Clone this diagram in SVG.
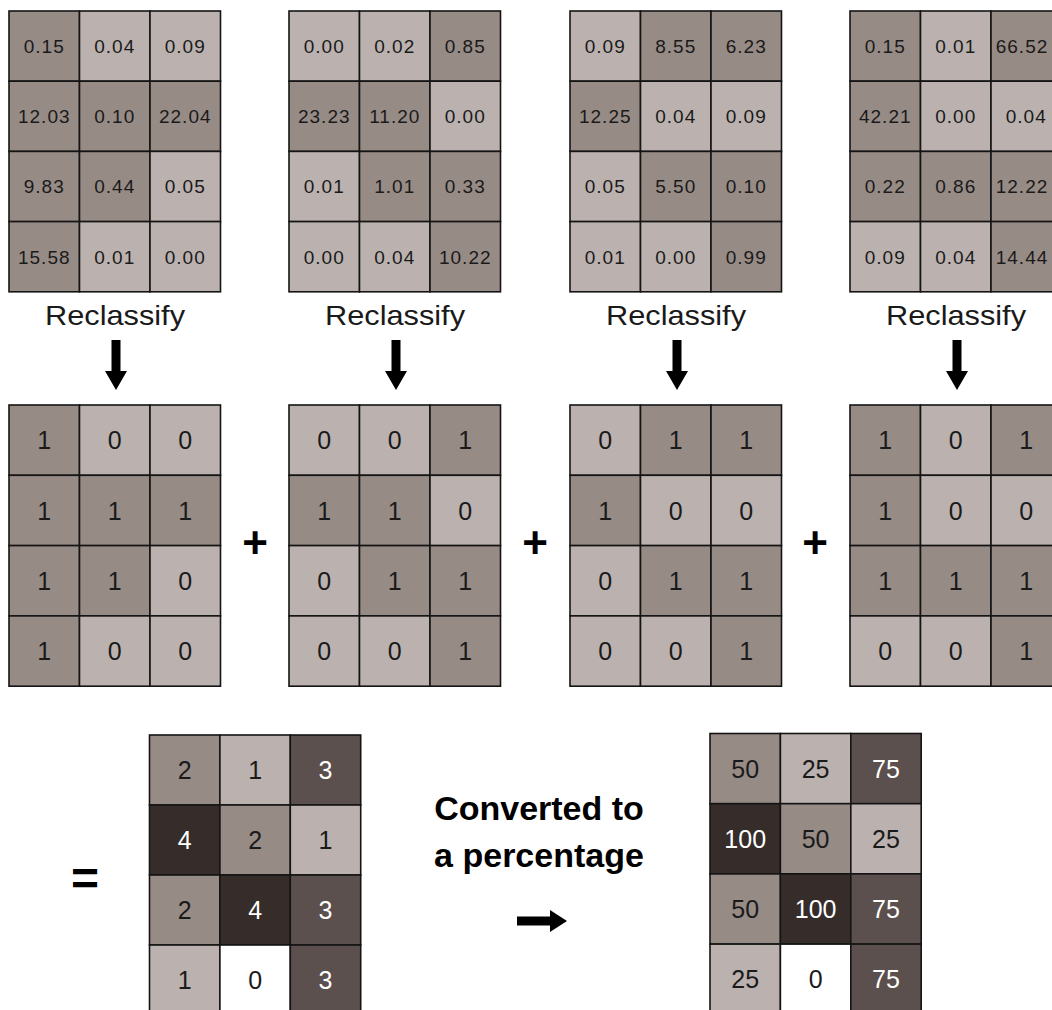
<svg xmlns="http://www.w3.org/2000/svg" width="1052" height="1010" viewBox="0 0 1052 1010">
<style>
.L{fill:#bbb2af}.M{fill:#978b86}.D{fill:#5b504d}.X{fill:#362d2b}.W{fill:#ffffff}
.grid rect{stroke:#141414;stroke-width:1.6}
.t1{font-family:"Liberation Sans",Arial,sans-serif;font-size:19px;letter-spacing:1px;text-anchor:middle;fill:#1a1a1a}
.t2{font-family:"Liberation Sans",Arial,sans-serif;font-size:25px;text-anchor:middle;fill:#1a1a1a}
.wt{fill:#ffffff}
.lbl{font-family:"Liberation Sans",Arial,sans-serif;font-size:28px;text-anchor:middle;fill:#1a1a1a}
.big{font-family:"Liberation Sans",Arial,sans-serif;font-size:34px;font-weight:bold;text-anchor:middle;fill:#000}
.op{font-family:"Liberation Sans",Arial,sans-serif;font-weight:bold;text-anchor:middle;fill:#000}
.arr{fill:#000}
</style>
<defs>
<polygon id="down" points="-4.5,0 4.5,0 4.5,31 11,31 0,50 -11,31 -4.5,31"/>
</defs>

<!-- Top input grids -->
<g id="input1" class="grid" transform="translate(9,11)">
<rect class="M" x="0" y="0" width="70.5" height="70.2"/><rect class="L" x="70.5" y="0" width="70.5" height="70.2"/><rect class="L" x="141" y="0" width="70.5" height="70.2"/>
<rect class="M" x="0" y="70.2" width="70.5" height="70.2"/><rect class="M" x="70.5" y="70.2" width="70.5" height="70.2"/><rect class="M" x="141" y="70.2" width="70.5" height="70.2"/>
<rect class="M" x="0" y="140.4" width="70.5" height="70.2"/><rect class="M" x="70.5" y="140.4" width="70.5" height="70.2"/><rect class="L" x="141" y="140.4" width="70.5" height="70.2"/>
<rect class="M" x="0" y="210.6" width="70.5" height="70.2"/><rect class="L" x="70.5" y="210.6" width="70.5" height="70.2"/><rect class="L" x="141" y="210.6" width="70.5" height="70.2"/>
<text class="t1" x="35.25" y="41.9">0.15</text><text class="t1" x="105.75" y="41.9">0.04</text><text class="t1" x="176.25" y="41.9">0.09</text>
<text class="t1" x="35.25" y="112.1">12.03</text><text class="t1" x="105.75" y="112.1">0.10</text><text class="t1" x="176.25" y="112.1">22.04</text>
<text class="t1" x="35.25" y="182.3">9.83</text><text class="t1" x="105.75" y="182.3">0.44</text><text class="t1" x="176.25" y="182.3">0.05</text>
<text class="t1" x="35.25" y="252.5">15.58</text><text class="t1" x="105.75" y="252.5">0.01</text><text class="t1" x="176.25" y="252.5">0.00</text>
</g>
<g id="input2" class="grid" transform="translate(289,11)">
<rect class="L" x="0" y="0" width="70.5" height="70.2"/><rect class="L" x="70.5" y="0" width="70.5" height="70.2"/><rect class="M" x="141" y="0" width="70.5" height="70.2"/>
<rect class="M" x="0" y="70.2" width="70.5" height="70.2"/><rect class="M" x="70.5" y="70.2" width="70.5" height="70.2"/><rect class="L" x="141" y="70.2" width="70.5" height="70.2"/>
<rect class="L" x="0" y="140.4" width="70.5" height="70.2"/><rect class="M" x="70.5" y="140.4" width="70.5" height="70.2"/><rect class="M" x="141" y="140.4" width="70.5" height="70.2"/>
<rect class="L" x="0" y="210.6" width="70.5" height="70.2"/><rect class="L" x="70.5" y="210.6" width="70.5" height="70.2"/><rect class="M" x="141" y="210.6" width="70.5" height="70.2"/>
<text class="t1" x="35.25" y="41.9">0.00</text><text class="t1" x="105.75" y="41.9">0.02</text><text class="t1" x="176.25" y="41.9">0.85</text>
<text class="t1" x="35.25" y="112.1">23.23</text><text class="t1" x="105.75" y="112.1">11.20</text><text class="t1" x="176.25" y="112.1">0.00</text>
<text class="t1" x="35.25" y="182.3">0.01</text><text class="t1" x="105.75" y="182.3">1.01</text><text class="t1" x="176.25" y="182.3">0.33</text>
<text class="t1" x="35.25" y="252.5">0.00</text><text class="t1" x="105.75" y="252.5">0.04</text><text class="t1" x="176.25" y="252.5">10.22</text>
</g>
<g id="input3" class="grid" transform="translate(570,11)">
<rect class="L" x="0" y="0" width="70.5" height="70.2"/><rect class="M" x="70.5" y="0" width="70.5" height="70.2"/><rect class="M" x="141" y="0" width="70.5" height="70.2"/>
<rect class="M" x="0" y="70.2" width="70.5" height="70.2"/><rect class="L" x="70.5" y="70.2" width="70.5" height="70.2"/><rect class="L" x="141" y="70.2" width="70.5" height="70.2"/>
<rect class="L" x="0" y="140.4" width="70.5" height="70.2"/><rect class="M" x="70.5" y="140.4" width="70.5" height="70.2"/><rect class="M" x="141" y="140.4" width="70.5" height="70.2"/>
<rect class="L" x="0" y="210.6" width="70.5" height="70.2"/><rect class="L" x="70.5" y="210.6" width="70.5" height="70.2"/><rect class="M" x="141" y="210.6" width="70.5" height="70.2"/>
<text class="t1" x="35.25" y="41.9">0.09</text><text class="t1" x="105.75" y="41.9">8.55</text><text class="t1" x="176.25" y="41.9">6.23</text>
<text class="t1" x="35.25" y="112.1">12.25</text><text class="t1" x="105.75" y="112.1">0.04</text><text class="t1" x="176.25" y="112.1">0.09</text>
<text class="t1" x="35.25" y="182.3">0.05</text><text class="t1" x="105.75" y="182.3">5.50</text><text class="t1" x="176.25" y="182.3">0.10</text>
<text class="t1" x="35.25" y="252.5">0.01</text><text class="t1" x="105.75" y="252.5">0.00</text><text class="t1" x="176.25" y="252.5">0.99</text>
</g>
<g id="input4" class="grid" transform="translate(850,11)">
<rect class="M" x="0" y="0" width="70.5" height="70.2"/><rect class="L" x="70.5" y="0" width="70.5" height="70.2"/><rect class="M" x="141" y="0" width="70.5" height="70.2"/>
<rect class="M" x="0" y="70.2" width="70.5" height="70.2"/><rect class="L" x="70.5" y="70.2" width="70.5" height="70.2"/><rect class="L" x="141" y="70.2" width="70.5" height="70.2"/>
<rect class="M" x="0" y="140.4" width="70.5" height="70.2"/><rect class="M" x="70.5" y="140.4" width="70.5" height="70.2"/><rect class="M" x="141" y="140.4" width="70.5" height="70.2"/>
<rect class="L" x="0" y="210.6" width="70.5" height="70.2"/><rect class="L" x="70.5" y="210.6" width="70.5" height="70.2"/><rect class="M" x="141" y="210.6" width="70.5" height="70.2"/>
<text class="t1" x="35.25" y="41.9">0.15</text><text class="t1" x="105.75" y="41.9">0.01</text><text class="t1" x="172" y="41.9">66.52</text>
<text class="t1" x="35.25" y="112.1">42.21</text><text class="t1" x="105.75" y="112.1">0.00</text><text class="t1" x="176.25" y="112.1">0.04</text>
<text class="t1" x="35.25" y="182.3">0.22</text><text class="t1" x="105.75" y="182.3">0.86</text><text class="t1" x="172" y="182.3">12.22</text>
<text class="t1" x="35.25" y="252.5">0.09</text><text class="t1" x="105.75" y="252.5">0.04</text><text class="t1" x="172" y="252.5">14.44</text>
</g>

<!-- Labels -->
<g id="labels">
<text class="lbl" x="115" y="325" textLength="140" lengthAdjust="spacingAndGlyphs">Reclassify</text>
<text class="lbl" x="395" y="325" textLength="140" lengthAdjust="spacingAndGlyphs">Reclassify</text>
<text class="lbl" x="676" y="325" textLength="140" lengthAdjust="spacingAndGlyphs">Reclassify</text>
<text class="lbl" x="956" y="325" textLength="140" lengthAdjust="spacingAndGlyphs">Reclassify</text>
</g>

<!-- Reclassified grids -->
<g id="reclass1" class="grid" transform="translate(9,405)">
<rect class="M" x="0" y="0" width="70.5" height="70.3"/><rect class="L" x="70.5" y="0" width="70.5" height="70.3"/><rect class="L" x="141" y="0" width="70.5" height="70.3"/>
<rect class="M" x="0" y="70.3" width="70.5" height="70.3"/><rect class="M" x="70.5" y="70.3" width="70.5" height="70.3"/><rect class="M" x="141" y="70.3" width="70.5" height="70.3"/>
<rect class="M" x="0" y="140.6" width="70.5" height="70.3"/><rect class="M" x="70.5" y="140.6" width="70.5" height="70.3"/><rect class="L" x="141" y="140.6" width="70.5" height="70.3"/>
<rect class="M" x="0" y="210.9" width="70.5" height="70.3"/><rect class="L" x="70.5" y="210.9" width="70.5" height="70.3"/><rect class="L" x="141" y="210.9" width="70.5" height="70.3"/>
<text class="t2" x="35.25" y="44.2">1</text><text class="t2" x="105.75" y="44.2">0</text><text class="t2" x="176.25" y="44.2">0</text>
<text class="t2" x="35.25" y="114.5">1</text><text class="t2" x="105.75" y="114.5">1</text><text class="t2" x="176.25" y="114.5">1</text>
<text class="t2" x="35.25" y="184.8">1</text><text class="t2" x="105.75" y="184.8">1</text><text class="t2" x="176.25" y="184.8">0</text>
<text class="t2" x="35.25" y="255.1">1</text><text class="t2" x="105.75" y="255.1">0</text><text class="t2" x="176.25" y="255.1">0</text>
</g>
<g id="reclass2" class="grid" transform="translate(289,405)">
<rect class="L" x="0" y="0" width="70.5" height="70.3"/><rect class="L" x="70.5" y="0" width="70.5" height="70.3"/><rect class="M" x="141" y="0" width="70.5" height="70.3"/>
<rect class="M" x="0" y="70.3" width="70.5" height="70.3"/><rect class="M" x="70.5" y="70.3" width="70.5" height="70.3"/><rect class="L" x="141" y="70.3" width="70.5" height="70.3"/>
<rect class="L" x="0" y="140.6" width="70.5" height="70.3"/><rect class="M" x="70.5" y="140.6" width="70.5" height="70.3"/><rect class="M" x="141" y="140.6" width="70.5" height="70.3"/>
<rect class="L" x="0" y="210.9" width="70.5" height="70.3"/><rect class="L" x="70.5" y="210.9" width="70.5" height="70.3"/><rect class="M" x="141" y="210.9" width="70.5" height="70.3"/>
<text class="t2" x="35.25" y="44.2">0</text><text class="t2" x="105.75" y="44.2">0</text><text class="t2" x="176.25" y="44.2">1</text>
<text class="t2" x="35.25" y="114.5">1</text><text class="t2" x="105.75" y="114.5">1</text><text class="t2" x="176.25" y="114.5">0</text>
<text class="t2" x="35.25" y="184.8">0</text><text class="t2" x="105.75" y="184.8">1</text><text class="t2" x="176.25" y="184.8">1</text>
<text class="t2" x="35.25" y="255.1">0</text><text class="t2" x="105.75" y="255.1">0</text><text class="t2" x="176.25" y="255.1">1</text>
</g>
<g id="reclass3" class="grid" transform="translate(570,405)">
<rect class="L" x="0" y="0" width="70.5" height="70.3"/><rect class="M" x="70.5" y="0" width="70.5" height="70.3"/><rect class="M" x="141" y="0" width="70.5" height="70.3"/>
<rect class="M" x="0" y="70.3" width="70.5" height="70.3"/><rect class="L" x="70.5" y="70.3" width="70.5" height="70.3"/><rect class="L" x="141" y="70.3" width="70.5" height="70.3"/>
<rect class="L" x="0" y="140.6" width="70.5" height="70.3"/><rect class="M" x="70.5" y="140.6" width="70.5" height="70.3"/><rect class="M" x="141" y="140.6" width="70.5" height="70.3"/>
<rect class="L" x="0" y="210.9" width="70.5" height="70.3"/><rect class="L" x="70.5" y="210.9" width="70.5" height="70.3"/><rect class="M" x="141" y="210.9" width="70.5" height="70.3"/>
<text class="t2" x="35.25" y="44.2">0</text><text class="t2" x="105.75" y="44.2">1</text><text class="t2" x="176.25" y="44.2">1</text>
<text class="t2" x="35.25" y="114.5">1</text><text class="t2" x="105.75" y="114.5">0</text><text class="t2" x="176.25" y="114.5">0</text>
<text class="t2" x="35.25" y="184.8">0</text><text class="t2" x="105.75" y="184.8">1</text><text class="t2" x="176.25" y="184.8">1</text>
<text class="t2" x="35.25" y="255.1">0</text><text class="t2" x="105.75" y="255.1">0</text><text class="t2" x="176.25" y="255.1">1</text>
</g>
<g id="reclass4" class="grid" transform="translate(850,405)">
<rect class="M" x="0" y="0" width="70.5" height="70.3"/><rect class="L" x="70.5" y="0" width="70.5" height="70.3"/><rect class="M" x="141" y="0" width="70.5" height="70.3"/>
<rect class="M" x="0" y="70.3" width="70.5" height="70.3"/><rect class="L" x="70.5" y="70.3" width="70.5" height="70.3"/><rect class="L" x="141" y="70.3" width="70.5" height="70.3"/>
<rect class="M" x="0" y="140.6" width="70.5" height="70.3"/><rect class="M" x="70.5" y="140.6" width="70.5" height="70.3"/><rect class="M" x="141" y="140.6" width="70.5" height="70.3"/>
<rect class="L" x="0" y="210.9" width="70.5" height="70.3"/><rect class="L" x="70.5" y="210.9" width="70.5" height="70.3"/><rect class="M" x="141" y="210.9" width="70.5" height="70.3"/>
<text class="t2" x="35.25" y="44.2">1</text><text class="t2" x="105.75" y="44.2">0</text><text class="t2" x="176.25" y="44.2">1</text>
<text class="t2" x="35.25" y="114.5">1</text><text class="t2" x="105.75" y="114.5">0</text><text class="t2" x="176.25" y="114.5">0</text>
<text class="t2" x="35.25" y="184.8">1</text><text class="t2" x="105.75" y="184.8">1</text><text class="t2" x="176.25" y="184.8">1</text>
<text class="t2" x="35.25" y="255.1">0</text><text class="t2" x="105.75" y="255.1">0</text><text class="t2" x="176.25" y="255.1">1</text>
</g>

<!-- Sum grid -->
<g id="sum" class="grid" transform="translate(149.5,735)">
<rect class="M" x="0" y="0" width="70.4" height="70"/><rect class="L" x="70.4" y="0" width="70.4" height="70"/><rect class="D" x="140.8" y="0" width="70.4" height="70"/>
<rect class="X" x="0" y="70" width="70.4" height="70"/><rect class="M" x="70.4" y="70" width="70.4" height="70"/><rect class="L" x="140.8" y="70" width="70.4" height="70"/>
<rect class="M" x="0" y="140" width="70.4" height="70"/><rect class="X" x="70.4" y="140" width="70.4" height="70"/><rect class="D" x="140.8" y="140" width="70.4" height="70"/>
<rect class="L" x="0" y="210" width="70.4" height="70"/><rect class="W" x="70.4" y="210" width="70.4" height="70"/><rect class="D" x="140.8" y="210" width="70.4" height="70"/>
<text class="t2" x="35.2" y="44">2</text><text class="t2" x="105.6" y="44">1</text><text class="t2 wt" x="176" y="44">3</text>
<text class="t2 wt" x="35.2" y="114">4</text><text class="t2" x="105.6" y="114">2</text><text class="t2" x="176" y="114">1</text>
<text class="t2" x="35.2" y="184">2</text><text class="t2 wt" x="105.6" y="184">4</text><text class="t2 wt" x="176" y="184">3</text>
<text class="t2" x="35.2" y="254">1</text><text class="t2" x="105.6" y="254">0</text><text class="t2 wt" x="176" y="254">3</text>
</g>

<!-- Percentage grid -->
<g id="percent" class="grid" transform="translate(710,733.5)">
<rect class="M" x="0" y="0" width="70.4" height="70.2"/><rect class="L" x="70.4" y="0" width="70.4" height="70.2"/><rect class="D" x="140.8" y="0" width="70.4" height="70.2"/>
<rect class="X" x="0" y="70.2" width="70.4" height="70.2"/><rect class="M" x="70.4" y="70.2" width="70.4" height="70.2"/><rect class="L" x="140.8" y="70.2" width="70.4" height="70.2"/>
<rect class="M" x="0" y="140.4" width="70.4" height="70.2"/><rect class="X" x="70.4" y="140.4" width="70.4" height="70.2"/><rect class="D" x="140.8" y="140.4" width="70.4" height="70.2"/>
<rect class="L" x="0" y="210.6" width="70.4" height="70.2"/><rect class="W" x="70.4" y="210.6" width="70.4" height="70.2"/><rect class="D" x="140.8" y="210.6" width="70.4" height="70.2"/>
<text class="t2" x="35.2" y="44">50</text><text class="t2" x="105.6" y="44">25</text><text class="t2 wt" x="176" y="44">75</text>
<text class="t2 wt" x="35.2" y="114.2">100</text><text class="t2" x="105.6" y="114.2">50</text><text class="t2" x="176" y="114.2">25</text>
<text class="t2" x="35.2" y="184.4">50</text><text class="t2 wt" x="105.6" y="184.4">100</text><text class="t2 wt" x="176" y="184.4">75</text>
<text class="t2" x="35.2" y="254.6">25</text><text class="t2" x="105.6" y="254.6">0</text><text class="t2 wt" x="176" y="254.6">75</text>
</g>

<!-- Connectors and operators -->
<g id="connectors">
<use href="#down" class="arr" x="116" y="340"/>
<use href="#down" class="arr" x="396" y="340"/>
<use href="#down" class="arr" x="677" y="340"/>
<use href="#down" class="arr" x="957" y="340"/>
<polygon class="arr" points="517,916.5 550,916.5 550,910 567,921 550,932 550,925.5 517,925.5"/>
<text class="op" x="255" y="558" font-size="44">+</text>
<text class="op" x="535" y="558" font-size="44">+</text>
<text class="op" x="815" y="558" font-size="44">+</text>
<text class="op" x="85" y="895" font-size="48">=</text>
</g>

<g id="caption">
<text class="big" x="539" y="820">Converted to</text>
<text class="big" x="539" y="867">a percentage</text>
</g>
</svg>
